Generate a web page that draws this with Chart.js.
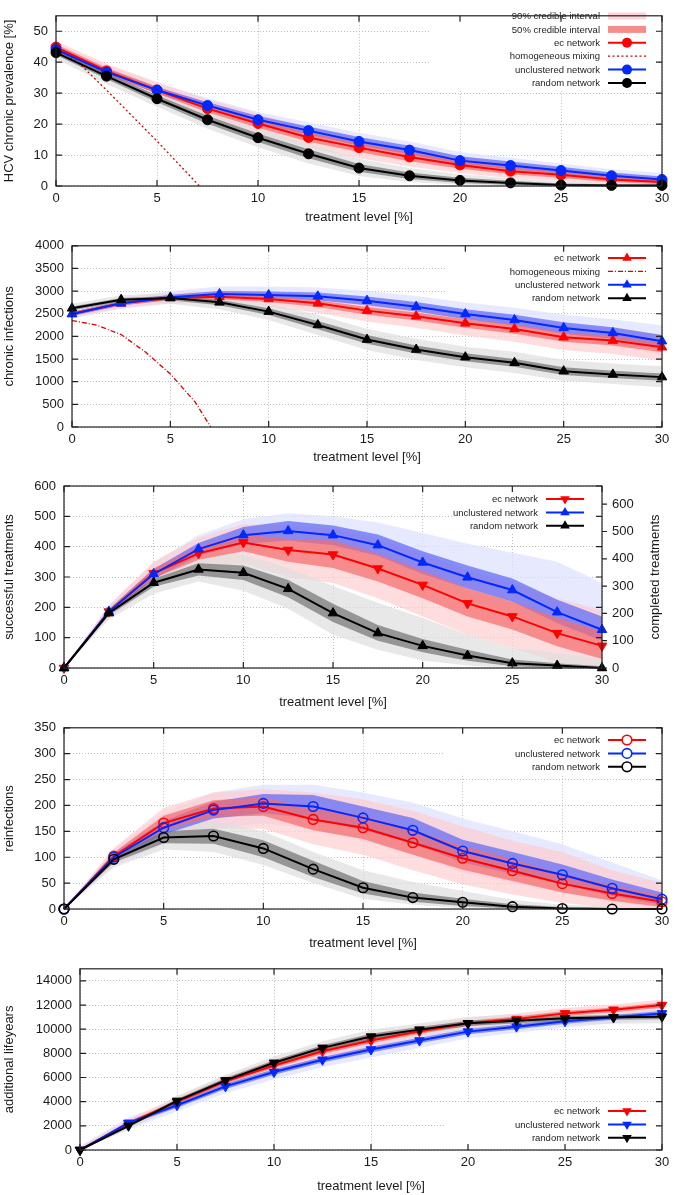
<!DOCTYPE html>
<html>
<head>
<meta charset="utf-8">
<title>HCV treatment scenarios</title>
<script src="https://cdn.jsdelivr.net/npm/chart.js@4.4.1/dist/chart.umd.min.js"></script>
<style>
  html, body { margin: 0; padding: 0; background: #fff; }
  body { position: relative; width: 675px; height: 1195px; overflow: hidden; }
  .panel { position: absolute; left: 0; width: 675px; }
</style>
</head>
<body>
<div class="panel" style="top:0px;height:226px"><canvas id="prevChart"></canvas></div>
<div class="panel" style="top:230px;height:236px"><canvas id="chronicChart"></canvas></div>
<div class="panel" style="top:467px;height:244px"><canvas id="successChart"></canvas></div>
<div class="panel" style="top:712px;height:240px"><canvas id="reinfChart"></canvas></div>
<div class="panel" style="top:953px;height:242px"><canvas id="lifeChart"></canvas></div>
<script>
// shared x values
var treatment = [0, 2.5, 5, 7.5, 10, 12.5, 15, 17.5, 20, 22.5, 25, 27.5, 30];
var levelTicks = [0, 5, 10, 15, 20, 25, 30];

// HCV chronic prevalence [%]
var prevTicks = [0, 10, 20, 30, 40, 50];
var prevEc = [44.9, 37.2, 31.0, 25.0, 20.2, 15.7, 12.4, 9.4, 6.8, 4.8, 3.6, 2.1, 1.3];
var prevEc50 = [[44, 45.8], [36.3, 38.2], [29.9, 32.1], [23.8, 26.3], [18.8, 21.6], [14.3, 17.2], [11, 13.9], [8, 10.8], [5.6, 8.1], [3.8, 6], [2.6, 4.6], [1.3, 3], [0.6, 2]];
var prevEc90 = [[43, 46.8], [35, 39.5], [28.3, 33.6], [22, 28], [17, 23.4], [12.4, 19], [9, 15.5], [6.3, 12.3], [4.2, 9.7], [2.6, 7.4], [1.6, 5.7], [0.7, 4], [0.2, 3]];
var prevUncl = [44.1, 36.8, 31.0, 26.0, 21.4, 17.9, 14.4, 11.6, 8.2, 6.6, 5.0, 3.3, 2.1];
var prevUncl50 = [[43.3, 45], [35.9, 37.8], [30, 32], [24.9, 27.1], [20.2, 22.6], [16.6, 19.2], [13.1, 15.8], [10.3, 13], [7, 9.6], [5.4, 7.9], [3.9, 6.2], [2.3, 4.4], [1.2, 3.1]];
var prevUncl90 = [[42.3, 46], [34.7, 39], [28.8, 33.2], [23.6, 28.4], [19, 23.9], [15.3, 20.6], [11.8, 17.2], [9, 14.4], [5.8, 11], [4.3, 9.1], [2.9, 7.3], [1.5, 5.4], [0.7, 4.2]];
var prevRand = [43.1, 35.5, 28.2, 21.4, 15.6, 10.4, 5.8, 3.3, 1.8, 1.0, 0.3, 0.2, 0.2];
var prevRand50 = [[42.3, 43.9], [34.6, 36.4], [27.1, 29.3], [20.1, 22.7], [14.2, 17], [9, 11.9], [4.6, 7.1], [2.3, 4.4], [1, 2.7], [0.4, 1.7], [0, 0.8], [0, 0.6], [0, 0.5]];
var prevRand90 = [[41, 45], [33, 37.8], [25.6, 30.8], [18.5, 24.3], [12.5, 18.7], [7.3, 13.6], [3.2, 8.8], [1.3, 5.8], [0.4, 3.8], [0, 2.5], [0, 1.5], [0, 1], [0, 0.8]];
var prevHomX = [0, 1.25, 2.5, 5, 7.1];
var prevHom = [45, 39, 31, 14.5, 0];

// chronic infections
var chronTicks = [0, 500, 1000, 1500, 2000, 2500, 3000, 3500, 4000];
var chronEc = [2495, 2730, 2848, 2877, 2826, 2730, 2569, 2444, 2290, 2165, 1982, 1908, 1761];
var chronEc50 = [[2460, 2540], [2690, 2775], [2800, 2895], [2820, 2930], [2760, 2890], [2650, 2800], [2480, 2650], [2350, 2530], [2190, 2380], [2060, 2260], [1880, 2080], [1800, 2010], [1650, 1860]];
var chronEc90 = [[2410, 2590], [2630, 2830], [2730, 2960], [2730, 3020], [2650, 2990], [2520, 2920], [2330, 2790], [2190, 2680], [2020, 2540], [1880, 2420], [1700, 2240], [1610, 2180], [1470, 2040]];
var chronUncl = [2495, 2730, 2862, 2936, 2914, 2884, 2789, 2657, 2495, 2363, 2187, 2077, 1894];
var chronUncl50 = [[2450, 2540], [2680, 2780], [2810, 2920], [2870, 3000], [2840, 2990], [2800, 2970], [2690, 2880], [2550, 2760], [2380, 2600], [2240, 2480], [2060, 2310], [1950, 2200], [1760, 2030]];
var chronUncl90 = [[2390, 2600], [2610, 2850], [2720, 3000], [2770, 3100], [2730, 3100], [2680, 3080], [2560, 3000], [2410, 2890], [2230, 2750], [2090, 2630], [1900, 2480], [1790, 2380], [1590, 2240]];
var chronRand = [2620, 2811, 2848, 2752, 2547, 2253, 1930, 1710, 1541, 1417, 1233, 1160, 1101];
var chronRand50 = [[2580, 2660], [2770, 2850], [2800, 2890], [2690, 2810], [2470, 2620], [2160, 2340], [1840, 2030], [1620, 1800], [1450, 1630], [1330, 1500], [1150, 1320], [1080, 1240], [1020, 1180]];
var chronRand90 = [[2520, 2720], [2710, 2910], [2720, 2960], [2600, 2890], [2360, 2720], [2030, 2480], [1700, 2170], [1480, 1950], [1320, 1770], [1190, 1660], [1020, 1480], [950, 1400], [880, 1340]];
var chronHomX = [0, 1.25, 2.5, 3.75, 5, 6.25, 7.05];
var chronHom = [2350, 2250, 2040, 1650, 1170, 560, 0];

// successful treatments (left) / completed treatments (right)
var succTicks = [0, 100, 200, 300, 400, 500, 600];
var complTicks = [0, 100, 200, 300, 400, 500, 600];
var succEc = [0, 186, 312, 378, 414, 389, 374, 328, 274, 213, 170, 115, 73];
var succEc50 = [[0, 0], [178, 194], [296, 328], [357, 400], [385, 440], [350, 425], [330, 420], [285, 375], [230, 320], [170, 262], [127, 218], [72, 165], [30, 120]];
var succEc90 = [[0, 0], [165, 207], [272, 350], [325, 430], [345, 475], [300, 470], [280, 460], [230, 425], [170, 375], [110, 320], [65, 280], [20, 230], [0, 190]];
var succUncl = [0, 186, 310, 392, 438, 452, 438, 405, 348, 299, 257, 184, 126];
var succUncl50 = [[0, 0], [178, 194], [294, 326], [370, 412], [410, 465], [420, 485], [405, 470], [370, 440], [310, 385], [262, 338], [218, 295], [148, 225], [90, 170]];
var succUncl90 = [[0, 0], [166, 206], [270, 348], [345, 438], [382, 490], [390, 510], [375, 500], [335, 480], [270, 445], [222, 410], [178, 380], [110, 350], [55, 280]];
var succRand = [0, 181, 281, 325, 314, 261, 181, 115, 73, 41, 16, 8, 0];
var succRand50 = [[0, 0], [174, 188], [268, 294], [305, 345], [290, 338], [233, 290], [152, 212], [90, 142], [52, 96], [24, 60], [6, 28], [0, 16], [0, 6]];
var succRand90 = [[0, 0], [160, 202], [245, 316], [285, 370], [255, 375], [195, 330], [110, 270], [60, 215], [25, 165], [8, 110], [0, 65], [0, 50], [0, 30]];

// reinfections
var reinfTicks = [0, 50, 100, 150, 200, 250, 300, 350];
var reinfEc = [0, 102, 166, 194, 198, 173, 157, 128, 98, 74, 49, 30, 14];
var reinfEc50 = [[0, 0], [95, 109], [152, 180], [178, 210], [180, 216], [152, 194], [135, 180], [105, 152], [76, 122], [54, 96], [32, 68], [16, 46], [4, 26]];
var reinfEc90 = [[0, 0], [85, 118], [130, 195], [155, 225], [155, 232], [125, 225], [105, 212], [75, 190], [48, 160], [28, 132], [12, 110], [2, 75], [0, 50]];
var reinfUncl = [0, 100, 157, 191, 204, 198, 176, 152, 112, 88, 66, 40, 19];
var reinfUncl50 = [[0, 0], [93, 107], [144, 170], [175, 207], [185, 222], [175, 220], [152, 198], [127, 176], [90, 134], [68, 110], [48, 86], [25, 57], [8, 32]];
var reinfUncl90 = [[0, 0], [84, 116], [125, 185], [155, 225], [165, 240], [155, 240], [130, 225], [105, 205], [70, 175], [50, 150], [32, 125], [12, 90], [2, 55]];
var reinfRand = [0, 96, 138, 141, 117, 77, 41, 22, 13, 4.5, 1, 0, 0];
var reinfRand50 = [[0, 0], [90, 102], [127, 150], [126, 155], [100, 133], [62, 93], [30, 54], [14, 32], [6, 20], [1, 9], [0, 4], [0, 2], [0, 1]];
var reinfRand90 = [[0, 0], [80, 112], [115, 162], [110, 170], [85, 150], [50, 110], [20, 75], [8, 52], [2, 35], [0, 18], [0, 8], [0, 5], [0, 3]];

// additional lifeyears
var lifeTicks = [0, 2000, 4000, 6000, 8000, 10000, 12000, 14000];
var lifeEc = [0, 2196, 3980, 5682, 7000, 8180, 9059, 9827, 10486, 10843, 11310, 11611, 11996];
var lifeEc50 = [[0, 0], [2050, 2350], [3800, 4150], [5480, 5880], [6780, 7220], [7950, 8400], [8830, 9300], [9600, 10050], [10270, 10700], [10630, 11050], [11100, 11500], [11400, 11800], [11780, 12200]];
var lifeEc90 = [[0, 300], [1800, 2550], [3550, 4400], [5200, 6150], [6500, 7500], [7650, 8700], [8550, 9580], [9350, 10300], [10050, 10950], [10400, 11300], [10900, 11750], [11200, 12050], [11550, 12450]];
var lifeUncl = [0, 2251, 3706, 5270, 6451, 7466, 8317, 9059, 9800, 10211, 10651, 10980, 11310];
var lifeUncl50 = [[0, 0], [2100, 2400], [3500, 3900], [5050, 5480], [6220, 6680], [7240, 7700], [8080, 8550], [8830, 9290], [9580, 10020], [10000, 10420], [10450, 10850], [10780, 11180], [11120, 11500]];
var lifeUncl90 = [[0, 300], [1700, 2700], [3200, 4150], [4700, 5750], [5850, 6950], [6850, 7950], [7650, 8800], [8450, 9550], [9250, 10300], [9700, 10650], [10150, 11050], [10500, 11350], [10850, 11650]];
var lifeRand = [0, 2004, 4063, 5765, 7219, 8455, 9388, 9964, 10486, 10706, 10898, 10980, 11035];
var lifeRand50 = [[0, 0], [1880, 2130], [3900, 4230], [5570, 5950], [7000, 7430], [8230, 8680], [9150, 9620], [9730, 10190], [10270, 10700], [10500, 10920], [10700, 11100], [10780, 11180], [10830, 11240]];
var lifeRand90 = [[0, 200], [1700, 2320], [3650, 4480], [5300, 6230], [6700, 7750], [7900, 9000], [8800, 9950], [9400, 10500], [9950, 11000], [10150, 11250], [10350, 11450], [10450, 11500], [10500, 11550]];

// legend labels
var netLabels = ['ec network', 'unclustered network', 'random network'];

// styling
var FONT = '"Liberation Sans", Arial, Helvetica, sans-serif';
var TXT = '#1a1a1a';
var RED = 'rgb(255,0,0)', BLUE = 'rgb(0,40,255)', BLACK = '#000';
var RED90 = 'rgba(255,205,208,0.7)', RED50 = 'rgba(244,110,110,0.72)';
var BLUE90 = 'rgba(222,225,255,0.75)', BLUE50 = 'rgba(95,105,245,0.72)';
var GRAY90 = 'rgba(222,222,222,0.7)', GRAY50 = 'rgba(115,115,115,0.7)';

function pts(xs, ys) {
    return xs.map(function (x, i) { return {x: x, y: ys[i]}; });
}

function bandSets(band, color, order) {
    return [
        {data: pts(treatment, band.map(function (b) { return b[0]; })), pointRadius: 0, borderWidth: 0, fill: false, order: order},
        {data: pts(treatment, band.map(function (b) { return b[1]; })), pointRadius: 0, borderWidth: 0, fill: '-1', backgroundColor: color, order: order}
    ];
}

function series(ys, color, mark, order) {
    return {
        data: pts(treatment, ys), borderColor: color, borderWidth: 2, tension: 0, fill: false,
        pointStyle: mark.style, pointRadius: mark.r, pointRotation: mark.rot || 0,
        pointBackgroundColor: mark.open ? 'rgba(255,255,255,0)' : color,
        pointBorderColor: color, pointBorderWidth: mark.open ? 1.6 : 1,
        clip: false, order: order
    };
}

function homSeries(xs, ys, dash) {
    return {data: pts(xs, ys), borderColor: 'rgb(220,0,0)', borderWidth: 1.3, borderDash: dash,
        pointRadius: 0, tension: 0, fill: false, order: 1.4};
}

// higher order is drawn first: 90% bands, then 50% bands (blue under red), then lines
function netSets(b, marks) {
    var ds = [];
    ds = ds.concat(bandSets(b[3], BLUE90, 9), bandSets(b[1], RED90, 8), bandSets(b[5], GRAY90, 7));
    ds = ds.concat(bandSets(b[2], BLUE50, 6), bandSets(b[0], RED50, 5), bandSets(b[4], GRAY50, 4));
    ds.push(series(b[6], RED, marks[0], 1.3));
    ds.push(series(b[7], BLUE, marks[1], 1.2));
    ds.push(series(b[8], BLACK, marks[2], 1.1));
    return ds;
}

function drawMark(ctx, m, color, x, y) {
    ctx.beginPath();
    if (m.style === 'circle') {
        ctx.arc(x, y, m.r, 0, Math.PI * 2);
    } else {
        var s = m.rot ? -1 : 1;
        for (var k = 0; k < 3; k++) {
            var a = -Math.PI / 2 + k * 2 * Math.PI / 3;
            if (k === 0) ctx.moveTo(x + m.r * Math.cos(a), y + s * m.r * Math.sin(a));
            else ctx.lineTo(x + m.r * Math.cos(a), y + s * m.r * Math.sin(a));
        }
        ctx.closePath();
    }
    if (m.open) {
        ctx.fillStyle = '#fff'; ctx.fill();
        ctx.lineWidth = 1.6; ctx.strokeStyle = color; ctx.stroke();
    } else {
        ctx.fillStyle = color; ctx.fill();
    }
}

function drawKey(ctx, k) {
    ctx.font = '9.5px ' + FONT;
    ctx.textAlign = 'right';
    ctx.textBaseline = 'middle';
    k.items.forEach(function (it, i) {
        var y = k.y + i * k.dy;
        var x0 = k.x + 8, x1 = x0 + 38;
        ctx.fillStyle = '#222';
        ctx.fillText(it.label, k.x, y + 0.5);
        if (it.band) {
            ctx.fillStyle = it.band;
            ctx.fillRect(x0, y - 3.5, 38, 7);
            return;
        }
        ctx.save();
        ctx.strokeStyle = it.color;
        ctx.lineWidth = it.dash ? 1.3 : 2;
        ctx.setLineDash(it.dash || []);
        ctx.beginPath(); ctx.moveTo(x0, y); ctx.lineTo(x1, y); ctx.stroke();
        ctx.restore();
        if (it.mark) drawMark(ctx, it.mark, it.color, (x0 + x1) / 2, y);
    });
}

var framePlugin = {
    id: 'frame',
    // key area hides the grid, the data is drawn over it
    beforeDatasetsDraw: function (chart, args, o) {
        if (!o.key) return;
        var b = o.key.box;
        chart.ctx.save();
        chart.ctx.fillStyle = '#fff';
        chart.ctx.fillRect(b[0], b[1], b[2] - b[0], b[3] - b[1]);
        chart.ctx.restore();
    },
    afterDatasetsDraw: function (chart, args, o) {
        var ctx = chart.ctx, a = chart.chartArea;
        var sx = chart.scales.x, sy = chart.scales.y, s2 = chart.scales.y2;
        ctx.save();
        if (o.key) drawKey(ctx, o.key);
        ctx.strokeStyle = '#222';
        ctx.lineWidth = 1.2;
        ctx.beginPath();
        sx.ticks.forEach(function (t) {
            var px = sx.getPixelForValue(t.value);
            ctx.moveTo(px, a.bottom); ctx.lineTo(px, a.bottom - 6);
            ctx.moveTo(px, a.top); ctx.lineTo(px, a.top + 6);
        });
        sy.ticks.forEach(function (t) {
            var py = sy.getPixelForValue(t.value);
            ctx.moveTo(a.left, py); ctx.lineTo(a.left + 6, py);
            ctx.moveTo(a.right, py); ctx.lineTo(a.right - 6, py);
        });
        if (s2) {
            s2.ticks.forEach(function (t) {
                var py = s2.getPixelForValue(t.value);
                ctx.moveTo(a.right, py); ctx.lineTo(a.right + 5, py);
            });
        }
        ctx.stroke();
        ctx.strokeRect(a.left, a.top, a.right - a.left, a.bottom - a.top);
        if (o.rightTitle) {
            ctx.translate(o.rightTitle.x, (a.top + a.bottom) / 2);
            ctx.rotate(-Math.PI / 2);
            ctx.fillStyle = TXT;
            ctx.font = '13px ' + FONT;
            ctx.textAlign = 'center';
            ctx.textBaseline = 'middle';
            ctx.fillText(o.rightTitle.text, 0, 0);
        }
        ctx.restore();
    }
};

function tickSetter(list) {
    return function (s) { s.ticks = list.map(function (v) { return {value: v}; }); };
}

var gridOpts = {color: '#bdbdbd', lineWidth: 1, drawTicks: false, borderDash: [1, 2]};
var borderOpts = {display: false, dash: [1, 2]};
var tickFont = {family: FONT, size: 13};

function makeChart(id, cfg) {
    var scales = {
        x: {
            type: 'linear', min: 0, max: 30,
            afterBuildTicks: tickSetter(levelTicks),
            afterFit: function (s) { s.height = cfg.xH; },
            grid: gridOpts, border: borderOpts,
            ticks: {padding: 5, color: TXT, font: tickFont, maxRotation: 0, callback: function (v) { return String(v); }},
            title: {display: true, text: 'treatment level [%]', color: TXT, font: tickFont, padding: {top: 0, bottom: 1}}
        },
        y: {
            type: 'linear', min: 0, max: cfg.yMax,
            afterBuildTicks: tickSetter(cfg.yTicks),
            afterFit: function (s) { s.width = cfg.yW; },
            grid: gridOpts, border: borderOpts,
            ticks: {padding: 8, color: TXT, font: tickFont, callback: function (v) { return String(v); }},
            title: {display: true, text: cfg.yTitle, color: TXT, font: tickFont, padding: {top: 2, bottom: 0}}
        }
    };
    if (cfg.y2) {
        scales.y2 = {
            type: 'linear', position: 'right', min: 0, max: cfg.y2.max,
            afterBuildTicks: tickSetter(cfg.y2.ticks),
            afterFit: function (s) { s.width = cfg.y2.w; },
            grid: {display: false, drawTicks: false}, border: {display: false},
            ticks: {padding: 10, color: TXT, font: tickFont, callback: function (v) { return String(v); }}
        };
    }
    return new Chart(document.getElementById(id), {
        type: 'line',
        data: {datasets: cfg.datasets},
        plugins: [framePlugin],
        options: {
            responsive: true,
            maintainAspectRatio: false,
            animation: false,
            events: [],
            layout: {padding: {top: cfg.padTop, right: cfg.padRight, bottom: 0, left: 0}},
            plugins: {
                legend: {display: false},
                tooltip: {enabled: false},
                frame: {key: cfg.key, rightTitle: cfg.rightTitle}
            },
            scales: scales
        }
    });
}

// Panel 1: HCV chronic prevalence
var dotMark = {style: 'circle', r: 5};
var p1 = netSets([prevEc50, prevEc90, prevUncl50, prevUncl90, prevRand50, prevRand90, prevEc, prevUncl, prevRand], [dotMark, dotMark, dotMark]);
p1.push(homSeries(prevHomX, prevHom, [2, 2.5]));
makeChart('prevChart', {
    datasets: p1, yMax: 55, yTicks: prevTicks, yTitle: 'HCV chronic prevalence [%]',
    yW: 56, xH: 40, padTop: 4, padRight: 13,
    key: {x: 600, y: 16, dy: 13.4, box: [430, 6, 655, 91], items: [
        {label: '90% credible interval', band: 'rgb(255,212,215)'},
        {label: '50% credible interval', band: 'rgb(245,140,140)'},
        {label: netLabels[0], color: RED, mark: dotMark},
        {label: 'homogeneous mixing', color: 'rgb(220,0,0)', dash: [2, 2.5]},
        {label: netLabels[1], color: BLUE, mark: dotMark},
        {label: netLabels[2], color: BLACK, mark: dotMark}
    ]}
});

// Panel 2: chronic infections
var triMark = {style: 'triangle', r: 5.5};
var p2 = netSets([chronEc50, chronEc90, chronUncl50, chronUncl90, chronRand50, chronRand90, chronEc, chronUncl, chronRand], [triMark, triMark, triMark]);
p2.push(homSeries(chronHomX, chronHom, [5, 2, 1, 2]));
makeChart('chronicChart', {
    datasets: p2, yMax: 4000, yTicks: chronTicks, yTitle: 'chronic infections',
    yW: 72, xH: 39, padTop: 15, padRight: 13,
    key: {x: 600, y: 28, dy: 13.4, box: [445, 18, 655, 76], items: [
        {label: netLabels[0], color: RED, mark: triMark},
        {label: 'homogeneous mixing', color: 'rgb(220,0,0)', dash: [5, 2, 1, 2]},
        {label: netLabels[1], color: BLUE, mark: triMark},
        {label: netLabels[2], color: BLACK, mark: triMark}
    ]}
});

// Panel 3: successful / completed treatments
var downMark = {style: 'triangle', r: 5.5, rot: 180};
var p3 = netSets([succEc50, succEc90, succUncl50, succUncl90, succRand50, succRand90, succEc, succUncl, succRand], [downMark, triMark, triMark]);
makeChart('successChart', {
    datasets: p3, yMax: 600, yTicks: succTicks, yTitle: 'successful treatments',
    yW: 64, xH: 43, padTop: 19, padRight: 0,
    y2: {max: 600 / 0.9, ticks: complTicks, w: 73},
    rightTitle: {x: 655, text: 'completed treatments'},
    key: {x: 538, y: 32, dy: 13.4, box: [452, 25, 596, 66], items: [
        {label: netLabels[0], color: RED, mark: downMark},
        {label: netLabels[1], color: BLUE, mark: triMark},
        {label: netLabels[2], color: BLACK, mark: triMark}
    ]}
});

// Panel 4: reinfections
var ringMark = {style: 'circle', r: 4.8, open: true};
var p4 = netSets([reinfEc50, reinfEc90, reinfUncl50, reinfUncl90, reinfRand50, reinfRand90, reinfEc, reinfUncl, reinfRand], [ringMark, ringMark, ringMark]);
makeChart('reinfChart', {
    datasets: p4, yMax: 350, yTicks: reinfTicks, yTitle: 'reinfections',
    yW: 64, xH: 43, padTop: 15, padRight: 13,
    key: {x: 600, y: 28, dy: 13.4, box: [445, 20, 655, 62], items: [
        {label: netLabels[0], color: RED, mark: ringMark},
        {label: netLabels[1], color: BLUE, mark: ringMark},
        {label: netLabels[2], color: BLACK, mark: ringMark}
    ]}
});

// Panel 5: additional lifeyears
var p5 = netSets([lifeEc50, lifeEc90, lifeUncl50, lifeUncl90, lifeRand50, lifeRand90, lifeEc, lifeUncl, lifeRand], [downMark, downMark, downMark]);
makeChart('lifeChart', {
    datasets: p5, yMax: 15000, yTicks: lifeTicks, yTitle: 'additional lifeyears',
    yW: 80, xH: 45, padTop: 15, padRight: 13,
    key: {x: 600, y: 158, dy: 13.4, box: [445, 150, 655, 193], items: [
        {label: netLabels[0], color: RED, mark: downMark},
        {label: netLabels[1], color: BLUE, mark: downMark},
        {label: netLabels[2], color: BLACK, mark: downMark}
    ]}
});
</script>
</body>
</html>
